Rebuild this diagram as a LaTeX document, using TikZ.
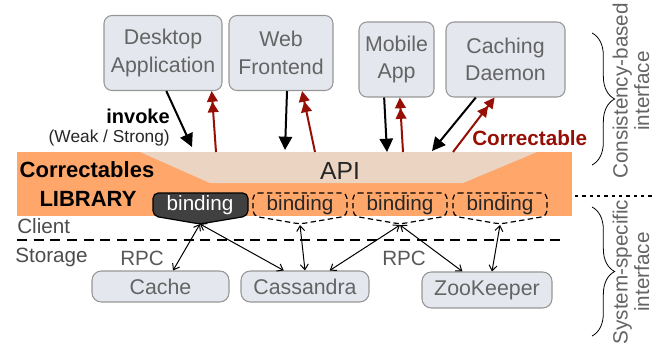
\documentclass[tikz,border=0pt]{standalone}
\usepackage{fontspec}
\setmainfont{Liberation Sans}
\usetikzlibrary{arrows.meta,decorations.pathreplacing}
\definecolor{libOrange}{RGB}{255,166,106}
\definecolor{apiTan}{RGB}{236,212,194}
\definecolor{boxFill}{RGB}{228,232,238}
\definecolor{boxLine}{RGB}{150,150,150}
\definecolor{boxText}{RGB}{100,100,100}
\definecolor{corrRed}{RGB}{150,15,5}
\definecolor{bindDark}{RGB}{64,64,64}

\begin{document}
\begin{tikzpicture}[x=0.75pt,y=-0.75pt,
	every node/.style={inner sep=0pt},
	big/.style={font=\fontsize{15.5}{20}\selectfont},
	app/.style={font=\fontsize{16}{20.5}\selectfont,draw=boxLine,fill=boxFill,line width=0.8pt,rounded corners=6pt,text=boxText,align=center},
	store/.style={app,rounded corners=7pt},
	invoke/.style={line width=1.5pt,-{Triangle[length=10pt,width=10pt]}},
	correct/.style={corrRed,line width=1.5pt,-{Triangle[length=8pt,width=8pt]Triangle[length=8pt,width=8pt]}},
	rpc/.style={line width=0.75pt,{Straight Barb[length=4pt,width=6pt]}-{Straight Barb[length=4pt,width=6pt]}},
	bindbox/.style={rounded corners=4pt,line width=0.9pt},
	bindtext/.style={big,text=black!85}]

	\useasboundingbox (0,0) rectangle (656,347);

	\fill[libOrange] (17,152) rectangle (572,216);
	\fill[apiTan] (140,152) -- (537,152) -- (463,183) -- (210,183) -- cycle;

	\node[app,minimum width=88.5pt,minimum height=56.25pt] (desk) at (163,53) {Desktop\\Application};
	\node[app,minimum width=78pt,minimum height=56.25pt] (web) at (281,53) {Web\\Frontend};
	\node[app,minimum width=56.25pt,minimum height=56.25pt] (mobile) at (396.5,59.5) {Mobile\\App};
	\node[app,minimum width=89.25pt,minimum height=56.25pt] (daemon) at (505.5,59.5) {Caching\\Daemon};

	\coordinate (in1) at (192,147);
	\coordinate (in2) at (285,150);
	\coordinate (in3) at (387,152);
	\coordinate (in4) at (432,151);
	\coordinate (out1) at (216,152);
	\coordinate (out2) at (315,152);
	\coordinate (out3) at (403,152);
	\coordinate (out4) at (453,152);

	\draw[invoke] (desk.-85) -- (in1);
	\draw[invoke] (web.-81) -- (in2);
	\draw[invoke] (mobile.-108) -- (in3);
	\draw[invoke] (daemon.-128) -- (in4);
	\draw[correct] (out1) -- (desk.-38);
	\draw[correct] (out2) -- (web.-61);
	\draw[correct] (out3) -- (mobile.-85);
	\draw[correct] (out4) -- (daemon.-106);

	\node[anchor=base east,font=\fontsize{15}{18}\selectfont\bfseries] (inv) at (170,123) {invoke};
	\node[anchor=base east,font=\fontsize{13}{16}\selectfont,text=black!85] (weak) at (170,142) {(Weak / Strong)};
	\node[anchor=base west,font=\fontsize{15.5}{18}\selectfont\bfseries,text=corrRed] (corr) at (472,145) {Correctable};

	\node[font=\fontsize{18.5}{20}\selectfont,text=black!85] (api) at (340,171) {API};
	\node[font=\fontsize{16.5}{20}\selectfont\bfseries] (lib1) at (87,170) {Correctables};
	\node[font=\fontsize{16.5}{20}\selectfont\bfseries] (lib2) at (88,199) {LIBRARY};

	\draw[bindbox,fill=bindDark] (153,193) -- (248,193) -- (248,216) -- (200,224) -- (153,216) -- cycle;
	\node[bindtext,text=white] (b1) at (200,205) {binding};
	\coordinate (t1) at (200,224);
	\foreach \x/\n in {300/2,400/3,500/4} {
		\draw[bindbox,dashed,dash pattern=on 4pt off 2.5pt] (\x-47,193) -- (\x+47,193) -- (\x+47,216) -- (\x,224) -- (\x-47,216) -- cycle;
		\node[bindtext] (b\n) at (\x,205) {binding};
		\coordinate (t\n) at (\x,225);
	}

	\draw[dotted,line width=0.8pt,dash pattern=on 2.5pt off 3pt] (575,196) -- (656,196);
	\draw[line width=2pt,dash pattern=on 7.5pt off 5pt] (17,240) -- (566,240);

	\node[big,anchor=base west,text=black!70] (client) at (17,233) {Client};
	\node[big,anchor=base west,text=black!70] (storage) at (15,262) {Storage};
	\node[big,anchor=base west,text=black!65] (rpc1) at (120,265) {RPC};
	\node[big,anchor=base west,text=black!65] (rpc2) at (382,265) {RPC};

	\node[store,minimum width=102.75pt,minimum height=23.25pt] (cache) at (160.5,286.5) {Cache};
	\node[store,minimum width=96pt,minimum height=23.25pt] (cassandra) at (305,286.5) {Cassandra};
	\node[store,minimum width=97.5pt,minimum height=27pt] (zoo) at (487,290) {ZooKeeper};

	\draw[rpc] (t1) -- (cache.52);
	\draw[rpc] (t1) -- (cassandra.143);
	\draw[rpc] (t2) -- (cassandra.90);
	\draw[rpc] (t3) -- (cassandra.33);
	\draw[rpc] (t3) -- (zoo.143);
	\draw[rpc] (t4) -- (zoo.75);

	\draw[line width=0.6pt,decorate,decoration={brace,amplitude=17pt}] (592,33) -- (592,165);
	\draw[line width=0.6pt,decorate,decoration={brace,amplitude=17pt}] (592,207) -- (592,336);
	\node[rotate=90,align=center,text=boxText,font=\fontsize{15.5}{16}\selectfont] (cons) at (631,91) {Consistency-based\\interface};
	\node[rotate=90,align=center,text=boxText,font=\fontsize{15.5}{16}\selectfont] (sys) at (631,272) {System-specific\\interface};

\end{tikzpicture}
\end{document}
